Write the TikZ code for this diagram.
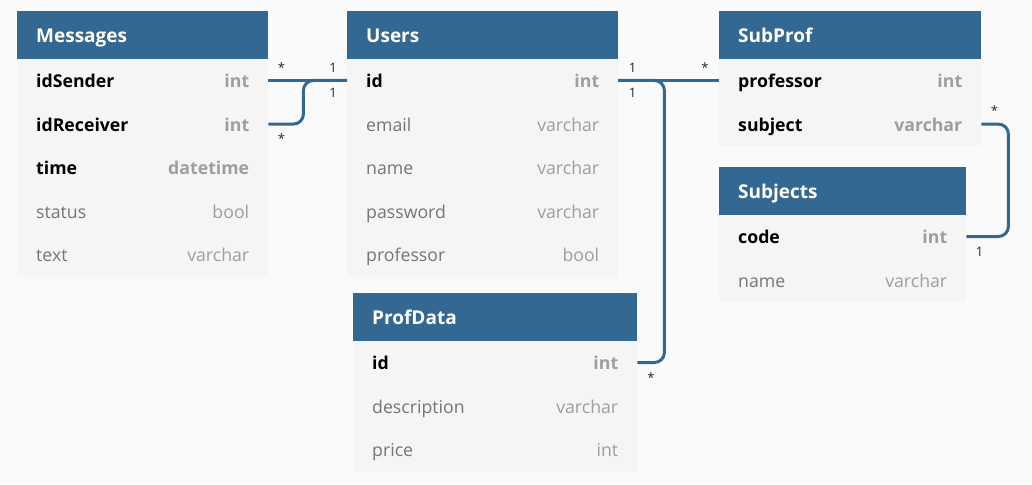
\documentclass[tikz,border=0pt]{standalone}
\usepackage{fontspec}
\setmainfont{Open Sans}
\usepackage{tikz}
\usetikzlibrary{positioning}
\definecolor{hdr}{RGB}{51,104,147}
\definecolor{bodyfill}{RGB}{245,245,245}
\definecolor{pagebg}{RGB}{250,250,250}
\definecolor{namegray}{RGB}{117,117,117}
\definecolor{typegray}{RGB}{158,158,158}
\tikzset{
  tablehead/.style={fill=hdr, text=white, font=\fontsize{19}{22}\selectfont\bfseries, anchor=north west, minimum height=47.5pt, inner xsep=19pt, inner ysep=0pt, align=left, text height=16pt, text depth=0pt},
  field/.style={fill=bodyfill, anchor=north west, minimum height=43.6pt, inner xsep=19pt, inner ysep=0pt, align=left, text height=14pt, text depth=0pt},
  keyfield/.style={field, text=black, font=\fontsize{17.7}{20}\selectfont\bfseries},
  plainfield/.style={field, text=namegray, font=\fontsize{17.7}{20}\selectfont},
  link/.style={draw=hdr, line width=3pt, rounded corners=10pt},
  card/.style={font=\fontsize{13}{15}\selectfont, anchor=base, text=black!85}
}
\begin{document}
\begin{tikzpicture}[x=1pt,y=-1pt]
\useasboundingbox (0,0) rectangle (1032,484);
\fill[pagebg] (0,0) rectangle (1032,484);
% Messages
\node[tablehead, text width=213pt] (Messages) at (17,11) {Messages};
\foreach \fname/\ftype/\fstyle [count=\i from 0] in {idSender/int/keyfield, idReceiver/int/keyfield, time/datetime/keyfield, status/bool/plainfield, text/varchar/plainfield}
  \node[\fstyle, text width=213pt] (Messages-\fname) at (17,{58.5+43.6*\i}) {\fname\hskip 0pt plus 1filll\textcolor{typegray}{\ftype}};
% Users
\node[tablehead, text width=233pt] (Users) at (347,11) {Users};
\foreach \fname/\ftype/\fstyle [count=\i from 0] in {id/int/keyfield, email/varchar/plainfield, name/varchar/plainfield, password/varchar/plainfield, professor/bool/plainfield}
  \node[\fstyle, text width=233pt] (Users-\fname) at (347,{58.5+43.6*\i}) {\fname\hskip 0pt plus 1filll\textcolor{typegray}{\ftype}};
% ProfData
\node[tablehead, text width=246pt] (ProfData) at (353,293) {ProfData};
\foreach \fname/\ftype/\fstyle [count=\i from 0] in {id/int/keyfield, description/varchar/plainfield, price/int/plainfield}
  \node[\fstyle, text width=246pt] (ProfData-\fname) at (353,{340.5+43.6*\i}) {\fname\hskip 0pt plus 1filll\textcolor{typegray}{\ftype}};
% SubProf
\node[tablehead, text width=224pt] (SubProf) at (719,11) {SubProf};
\foreach \fname/\ftype/\fstyle [count=\i from 0] in {professor/int/keyfield, subject/varchar/keyfield}
  \node[\fstyle, text width=224pt] (SubProf-\fname) at (719,{58.5+43.6*\i}) {\fname\hskip 0pt plus 1filll\textcolor{typegray}{\ftype}};
% Subjects
\node[tablehead, text width=209pt] (Subjects) at (719,167) {Subjects};
\foreach \fname/\ftype/\fstyle [count=\i from 0] in {code/int/keyfield, name/varchar/plainfield}
  \node[\fstyle, text width=209pt] (Subjects-\fname) at (719,{214.5+43.6*\i}) {\fname\hskip 0pt plus 1filll\textcolor{typegray}{\ftype}};
% relations
\draw[link] (Messages-idSender.east) -- (Users-id.west);
\draw[link] (Messages-idReceiver.east) -- ++(35,0) |- (Users-id.west);
\draw[link] (Users-id.east) -- (SubProf-professor.west);
\draw[link] (Users-id.east) -- ++(46,0) |- (ProfData-id.east);
\draw[link] (SubProf-subject.east) -- ++(27,0) |- (Subjects-code.east);
% multiplicities
\node[card] (senderMany) at (281.5,73) {*};
\node[card] (senderOne) at (333,73) {1};
\node[card] (receiverOne) at (333,98) {1};
\node[card] (receiverMany) at (281.5,143) {*};
\node[card] (profOne) at (632.5,73) {1};
\node[card] (profMany) at (705,73) {*};
\node[card] (dataOne) at (632.5,98) {1};
\node[card] (dataMany) at (651,382) {*};
\node[card] (subjectMany) at (994.5,115) {*};
\node[card] (subjectOne) at (979.5,256) {1};
\end{tikzpicture}
\end{document}
